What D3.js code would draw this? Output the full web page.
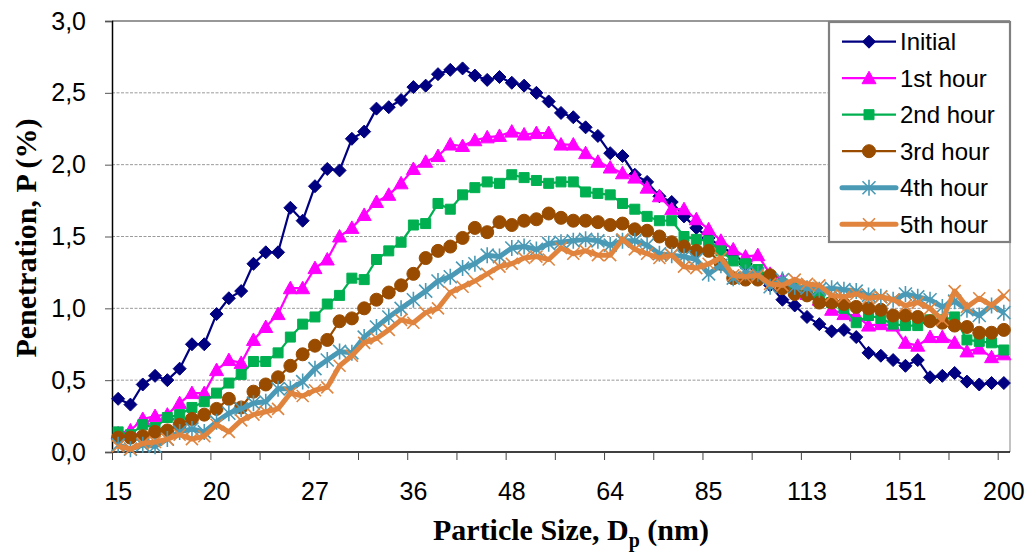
<!DOCTYPE html>
<html>
<head>
<meta charset="utf-8">
<script src="https://cdn.jsdelivr.net/npm/d3@7"></script>
<style>
  html, body { margin: 0; padding: 0; background: #fff; }
  svg { display: block; }
</style>
</head>
<body>
<svg id="chart" width="1027" height="552"></svg>
<script>
// ---- DATA ----
const categories = [
  15.1, 15.7, 16.2, 16.8, 17.4, 18.1, 18.7, 19.4, 20.1, 20.9,
  21.6, 22.4, 23.3, 24.1, 25.0, 25.9, 26.9, 27.8, 28.9, 29.9,
  31.0, 32.2, 33.3, 34.6, 35.8, 37.1, 38.5, 39.9, 41.4, 42.9,
  44.5, 46.1, 47.8, 49.5, 51.3, 53.2, 55.2, 57.2, 59.3, 61.4,
  63.7, 66.0, 68.5, 71.0, 73.6, 76.3, 79.1, 81.9, 84.9, 88.1,
  91.3, 94.6, 98.1, 101.7, 105.4, 109.3, 113.3, 117.4, 121.7, 126.2,
  130.8, 135.6, 140.6, 145.7, 151.0, 156.6, 162.3, 168.2, 174.4, 180.8,
  187.4, 194.3, 201.4
];
const xTickLabels = ["15", "20", "27", "36", "48", "64", "85", "113", "151", "200"];
const yTicks = [0, 0.5, 1.0, 1.5, 2.0, 2.5, 3.0];
const seriesNames = ["Initial", "1st hour", "2nd hour", "3rd hour", "4th hour", "5th hour"];

const initial = [
  0.37, 0.33, 0.47, 0.53, 0.50, 0.58, 0.75, 0.75, 0.96, 1.07,
  1.12, 1.31, 1.39, 1.39, 1.70, 1.61, 1.85, 1.97, 1.96, 2.18,
  2.23, 2.39, 2.40, 2.45, 2.54, 2.55, 2.63, 2.66, 2.67, 2.62,
  2.59, 2.61, 2.57, 2.55, 2.50, 2.44, 2.36, 2.33, 2.26, 2.20,
  2.08, 2.06, 1.93, 1.88, 1.78, 1.74, 1.64, 1.56, 1.49, 1.43,
  1.38, 1.31, 1.24, 1.16, 1.06, 1.02, 0.94, 0.89, 0.84, 0.85,
  0.80, 0.69, 0.67, 0.64, 0.60, 0.64, 0.52, 0.53, 0.55, 0.49,
  0.47, 0.48, 0.48
];
const hour1 = [
  0.13, 0.15, 0.23, 0.25, 0.26, 0.34, 0.41, 0.41, 0.57, 0.64,
  0.62, 0.78, 0.87, 0.96, 1.14, 1.14, 1.28, 1.34, 1.50, 1.56,
  1.65, 1.74, 1.79, 1.87, 1.97, 2.02, 2.06, 2.14, 2.13, 2.17,
  2.19, 2.20, 2.23, 2.21, 2.22, 2.22, 2.14, 2.14, 2.08, 2.02,
  1.98, 1.94, 1.91, 1.84, 1.78, 1.69, 1.69, 1.62, 1.55, 1.47,
  1.41, 1.36, 1.37, 1.24, 1.20, 1.17, 1.10, 1.06, 0.99, 0.96,
  0.95, 0.88, 0.89, 0.88, 0.76, 0.74, 0.80, 0.80, 0.76, 0.70,
  0.72, 0.66, 0.68
];
const hour2 = [
  0.14, 0.12, 0.19, 0.17, 0.24, 0.26, 0.31, 0.35, 0.41, 0.48,
  0.54, 0.63, 0.63, 0.69, 0.80, 0.89, 0.94, 1.03, 1.09, 1.21,
  1.20, 1.34, 1.40, 1.46, 1.58, 1.59, 1.73, 1.69, 1.79, 1.84,
  1.88, 1.87, 1.93, 1.91, 1.89, 1.87, 1.88, 1.88, 1.81, 1.80,
  1.79, 1.73, 1.69, 1.64, 1.61, 1.61, 1.50, 1.48, 1.47, 1.40,
  1.33, 1.31, 1.27, 1.22, 1.17, 1.14, 1.12, 1.08, 1.04, 1.00,
  0.90, 0.95, 0.93, 0.89, 0.88, 0.88, 0.92, 0.92, 0.94, 0.78,
  0.77, 0.76, 0.71
];
const hour3 = [
  0.10, 0.10, 0.11, 0.14, 0.15, 0.19, 0.23, 0.26, 0.30, 0.37,
  0.31, 0.42, 0.47, 0.52, 0.60, 0.68, 0.74, 0.78, 0.91, 0.93,
  1.00, 1.06, 1.11, 1.16, 1.24, 1.35, 1.40, 1.43, 1.49, 1.56,
  1.53, 1.60, 1.58, 1.61, 1.62, 1.66, 1.63, 1.61, 1.61, 1.60,
  1.58, 1.59, 1.55, 1.54, 1.50, 1.46, 1.43, 1.40, 1.40, 1.31,
  1.21, 1.20, 1.20, 1.23, 1.14, 1.10, 1.09, 1.04, 1.04, 1.03,
  1.01, 1.00, 0.99, 0.95, 0.95, 0.94, 0.91, 0.90, 0.88, 0.87,
  0.83, 0.83, 0.85
];
const hour4 = [
  0.05, 0.02, 0.05, 0.04, 0.09, 0.14, 0.16, 0.14, 0.21, 0.27,
  0.30, 0.34, 0.35, 0.44, 0.44, 0.49, 0.58, 0.64, 0.70, 0.69,
  0.80, 0.87, 0.94, 1.00, 1.06, 1.12, 1.19, 1.22, 1.28, 1.31,
  1.37, 1.36, 1.42, 1.43, 1.41, 1.45, 1.46, 1.47, 1.48, 1.47,
  1.44, 1.47, 1.47, 1.44, 1.38, 1.37, 1.36, 1.34, 1.24, 1.30,
  1.21, 1.25, 1.24, 1.15, 1.20, 1.15, 1.14, 1.13, 1.14, 1.13,
  1.12, 1.09, 1.08, 1.06, 1.10, 1.08, 1.06, 1.01, 1.05, 0.99,
  0.95, 1.02, 0.97
];
const hour5 = [
  0.04, 0.02, 0.06, 0.07, 0.09, 0.12, 0.09, 0.11, 0.19, 0.14,
  0.22, 0.26, 0.28, 0.30, 0.41, 0.39, 0.43, 0.45, 0.60, 0.67,
  0.76, 0.79, 0.85, 0.92, 0.90, 0.97, 1.00, 1.11, 1.15, 1.19,
  1.24, 1.29, 1.31, 1.35, 1.36, 1.34, 1.42, 1.38, 1.40, 1.37,
  1.37, 1.48, 1.41, 1.38, 1.35, 1.37, 1.29, 1.28, 1.31, 1.35,
  1.23, 1.22, 1.23, 1.17, 1.16, 1.20, 1.17, 1.16, 1.09, 1.08,
  1.10, 1.07, 1.08, 1.06, 1.02, 1.04, 1.00, 0.92, 1.12, 1.01,
  1.07, 1.02, 1.09
];
const seriesValues = [initial, hour1, hour2, hour3, hour4, hour5];

// ---- STYLE ----
const colors = ["#000080", "#FF00FF", "#00B050", "#994C00", "#4A9AB6", "#E0843E"];
const lineWidths = [2.2, 2.2, 2.2, 2.2, 5, 5];
const markerTypes = ["diamond", "triangle", "square", "circle", "asterisk", "cross"];

const svg = d3.select("#chart");
svg.append("rect").attr("width", 1027).attr("height", 552).attr("fill", "#fff");

const plotLeft = 112, plotRight = 1010, plotTop = 21, plotBottom = 452;

const x = d3.scaleBand().domain(categories.map((d, i) => i)).range([plotLeft, plotRight]).paddingInner(0).paddingOuter(0);
const xIdx = d3.scaleLinear().domain([0, categories.length]).range([plotLeft, plotRight]);
const y = d3.scaleLinear().domain([0, 3]).range([plotBottom, plotTop]);
const cx = i => x(i) + x.bandwidth() / 2;

// gridlines
const grid = svg.append("g");
yTicks.forEach(v => {
  if (v === 0) return;
  grid.append("line")
    .attr("x1", plotLeft).attr("x2", plotRight)
    .attr("y1", y(v)).attr("y2", y(v))
    .attr("stroke", v === 3 ? "#333" : "#9a9a9a")
    .attr("stroke-width", v === 3 ? 1.2 : 1)
    .attr("stroke-dasharray", v === 3 ? null : "3,1.5");
});
// right border
svg.append("line").attr("x1", plotRight).attr("x2", plotRight).attr("y1", plotTop).attr("y2", plotBottom)
  .attr("stroke", "#9a9a9a").attr("stroke-width", 1.2);

// Y axis
const yAxis = d3.axisLeft(y).tickValues(yTicks).tickSize(7).tickPadding(19)
  .tickFormat(d => d.toFixed(1).replace(".", ","));
const gy = svg.append("g").attr("transform", `translate(${plotLeft},0)`).call(yAxis);
gy.select(".domain").attr("stroke", "#000").attr("stroke-width", 1.5);
gy.selectAll(".tick line").attr("stroke", "#555");
gy.selectAll("text").attr("font-family", "'Liberation Sans', Arial, sans-serif").attr("font-size", 25).attr("fill", "#000");

// X axis tick marks (category boundaries every 4)
const boundaryTicks = d3.range(0, categories.length, 4);
const xTickAxis = d3.axisBottom(xIdx).tickValues(boundaryTicks).tickSize(8).tickFormat("");
const gxt = svg.append("g").attr("transform", `translate(0,${plotBottom})`).call(xTickAxis);
gxt.select(".domain").attr("stroke", "#000").attr("stroke-width", 1.5).attr("d", `M${plotLeft},0H${plotRight}`);
gxt.selectAll(".tick line").attr("stroke", "#444");

// X labels at every 8th category
const labelIdx = d3.range(0, categories.length, 8);
const xLabelAxis = d3.axisBottom(x).tickValues(labelIdx).tickSize(0).tickPadding(30)
  .tickFormat((d, i) => xTickLabels[i]);
const gxl = svg.append("g").attr("transform", `translate(0,${plotBottom})`).call(xLabelAxis);
gxl.select(".domain").remove();
gxl.selectAll("text").attr("font-family", "'Liberation Sans', Arial, sans-serif").attr("font-size", 25).attr("fill", "#000");

// marker paths
function markerPath(type) {
  switch (type) {
    case "diamond": return "M0,-6.5L6.5,0L0,6.5L-6.5,0Z";
    case "triangle": return "M0,-7L7,5.5L-7,5.5Z";
    case "square": return "M-5,-5H5V5H-5Z";
    case "circle": return d3.symbol(d3.symbolCircle, Math.PI * 6.5 * 6.5)();
    case "asterisk": return "M-6.5,-6.5L6.5,6.5M-6.5,6.5L6.5,-6.5M0,-8L0,8";
    case "cross": return "M-6,-6L6,6M-6,6L6,-6";
  }
}
function drawMarker(g, type, color) {
  const p = g.append("path").attr("d", markerPath(type));
  if (type === "asterisk" || type === "cross") {
    p.attr("fill", "none").attr("stroke", color).attr("stroke-width", 1.6);
  } else {
    p.attr("fill", color).attr("stroke", color).attr("stroke-width", 1);
  }
}

// series
const line = d3.line().x((d, i) => cx(i)).y(d => y(d));
seriesValues.forEach((vals, s) => {
  const g = svg.append("g");
  g.append("path").datum(vals).attr("d", line)
    .attr("fill", "none").attr("stroke", colors[s]).attr("stroke-width", lineWidths[s])
    .attr("stroke-linejoin", "round");
  vals.forEach((v, i) => {
    const mg = g.append("g").attr("transform", `translate(${cx(i)},${y(v)})`);
    drawMarker(mg, markerTypes[s], colors[s]);
  });
});

// Legend
const lg = svg.append("g");
lg.append("rect").attr("x", 829).attr("y", 22).attr("width", 181).attr("height", 220)
  .attr("fill", "#fff").attr("stroke", "#808080").attr("stroke-width", 2.2);
seriesNames.forEach((name, s) => {
  const yy = 41.7 + s * 36.5;
  lg.append("line").attr("x1", 842).attr("x2", 896).attr("y1", yy).attr("y2", yy)
    .attr("stroke", colors[s]).attr("stroke-width", lineWidths[s]).attr("stroke-linecap", lineWidths[s] > 3 ? "round" : "butt");
  const mg = lg.append("g").attr("transform", `translate(869,${yy})`);
  drawMarker(mg, markerTypes[s], colors[s]);
  lg.append("text").attr("x", 900).attr("y", yy).attr("dy", "0.35em")
    .attr("font-family", "'Liberation Sans', Arial, sans-serif").attr("font-size", 24)
    .attr("fill", "#000").text(name);
});

// Axis titles
const xt = svg.append("text").attr("x", 571).attr("y", 540).attr("text-anchor", "middle")
  .attr("font-family", "'Liberation Serif', 'Times New Roman', serif").attr("font-weight", "bold")
  .attr("font-size", 30).attr("fill", "#000");
xt.append("tspan").text("Particle Size, D");
xt.append("tspan").attr("font-size", 20).attr("dy", 7).text("p");
xt.append("tspan").attr("dy", -7).text(" (nm)");

svg.append("text").attr("transform", "translate(36,238) rotate(-90)").attr("text-anchor", "middle")
  .attr("font-family", "'Liberation Serif', 'Times New Roman', serif").attr("font-weight", "bold")
  .attr("font-size", 30).attr("fill", "#000").text("Penetration, P (%)");
</script>
</body>
</html>
